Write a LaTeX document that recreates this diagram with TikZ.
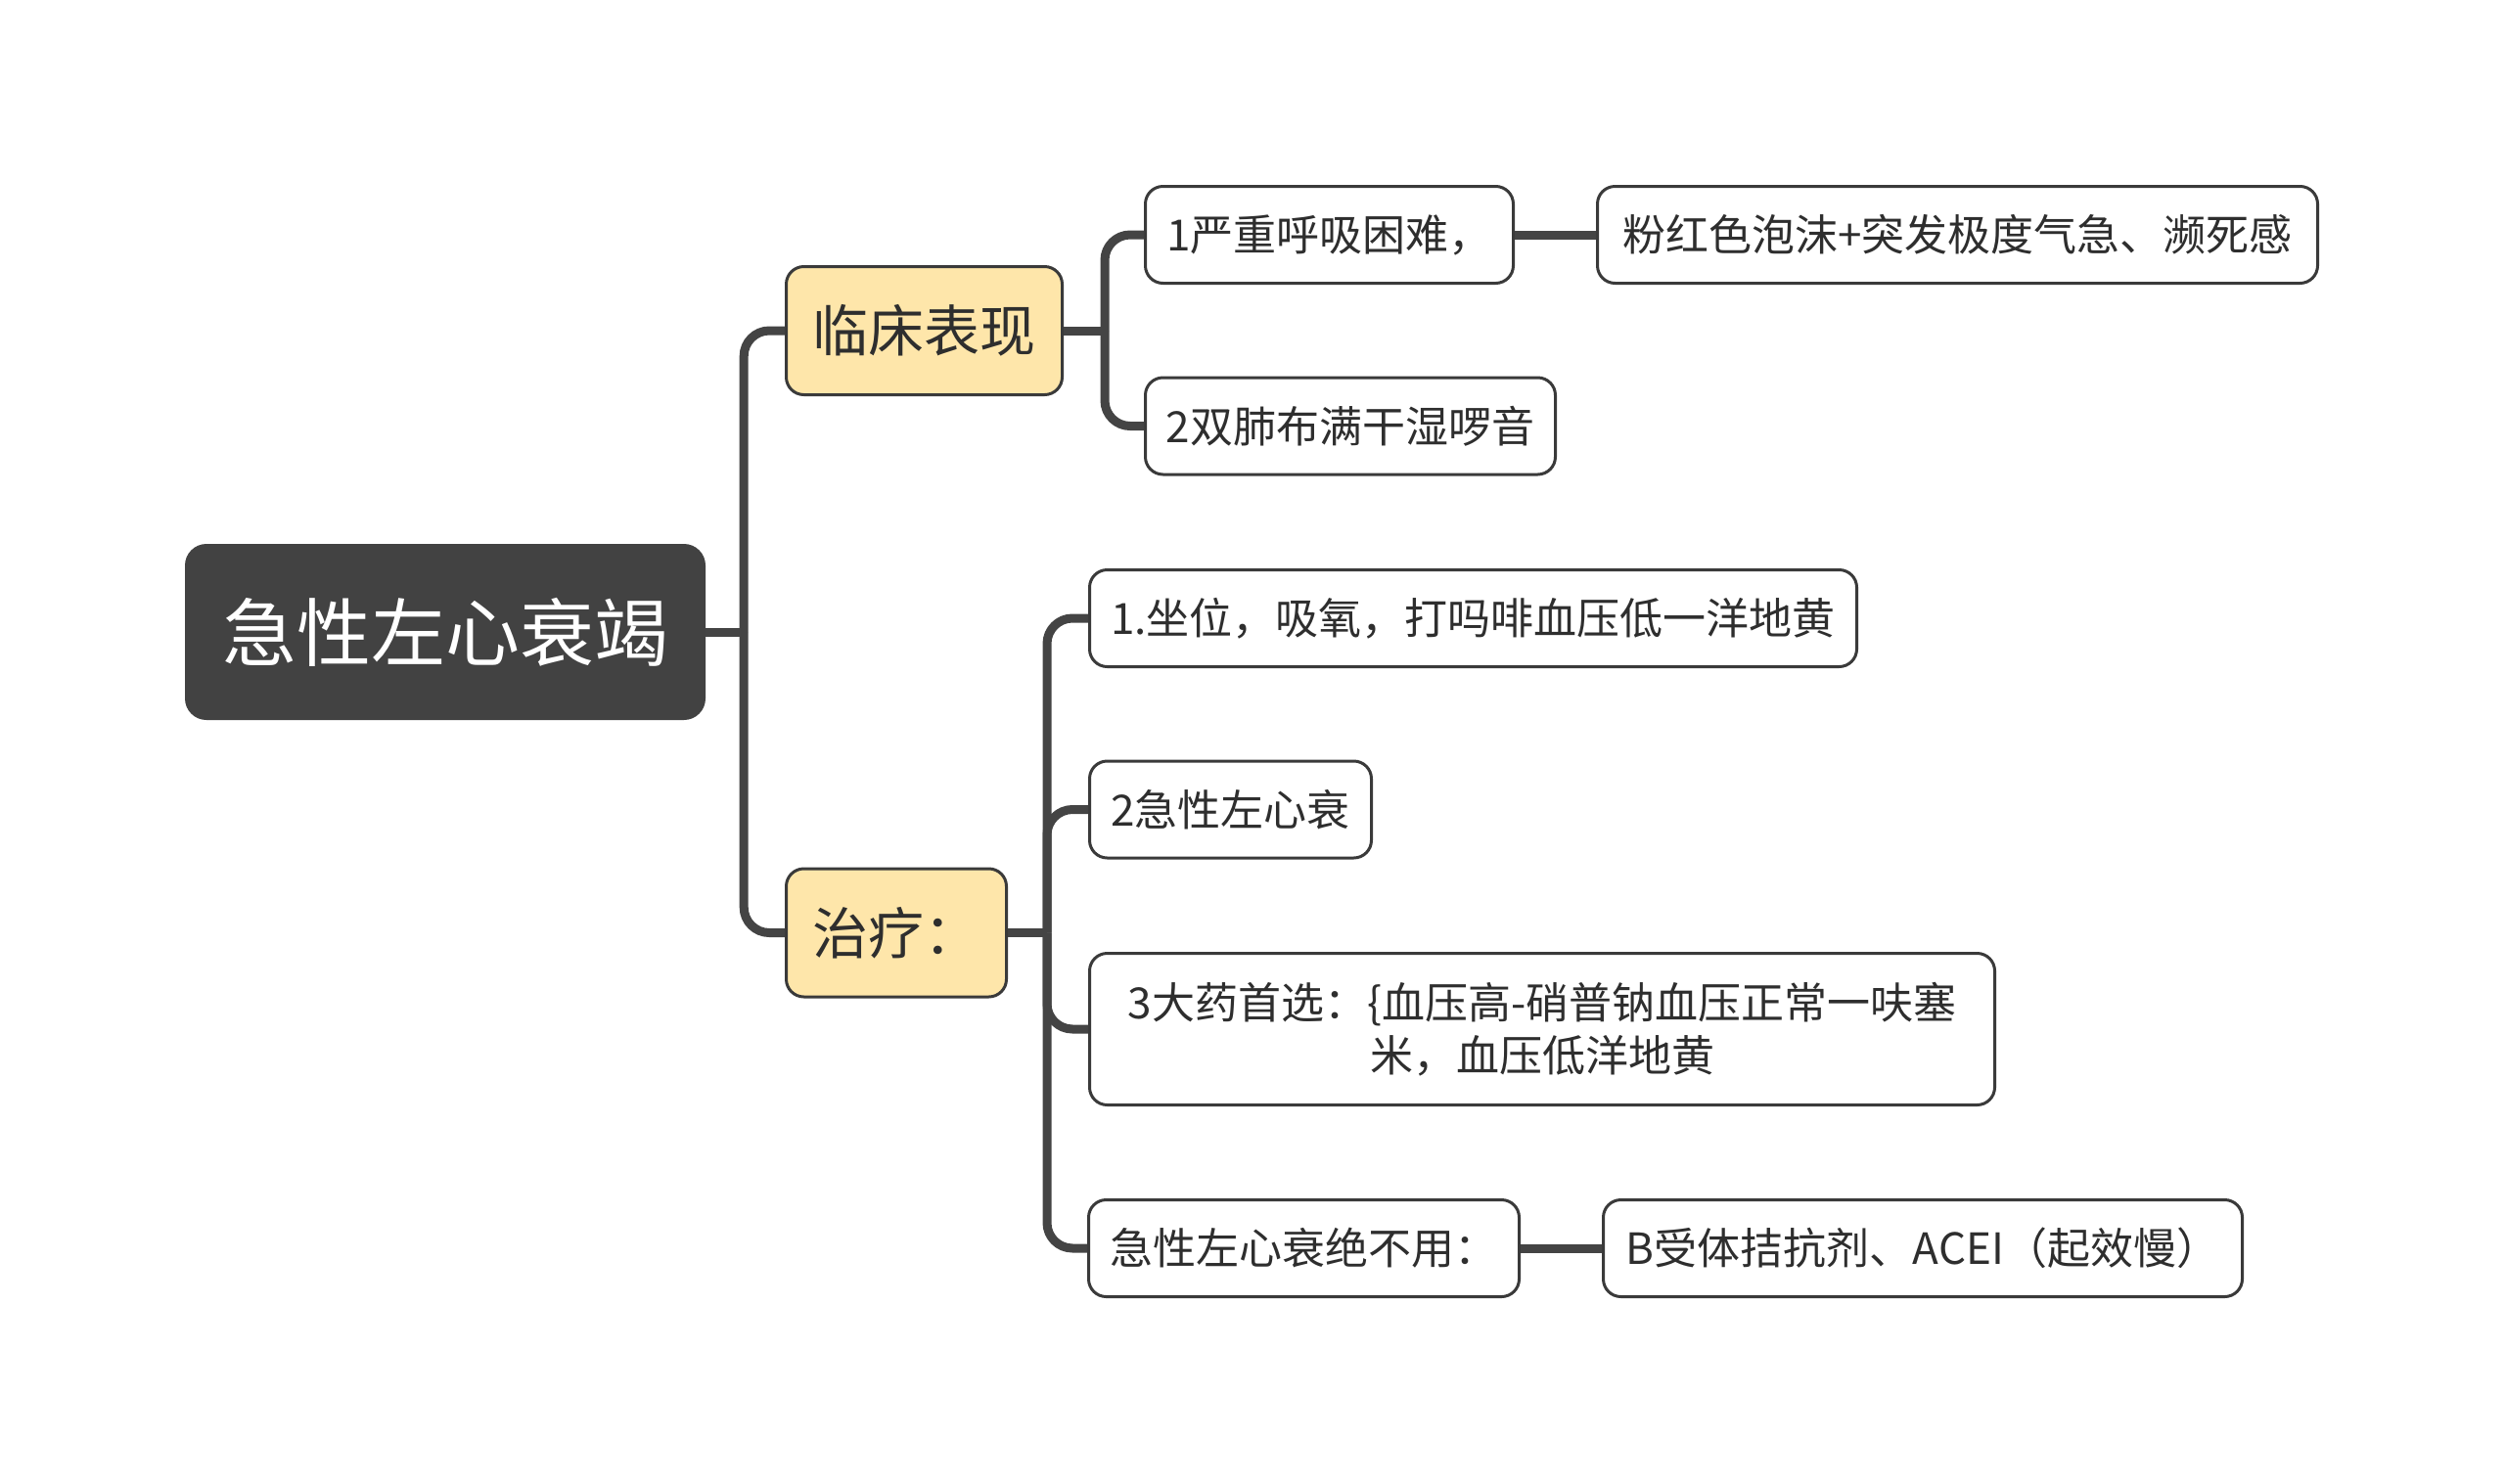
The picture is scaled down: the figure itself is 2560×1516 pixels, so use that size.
\documentclass[tikz,border=0pt]{standalone}
\usepackage{fontspec}
\setmainfont{Noto Sans CJK SC}
\definecolor{connc}{HTML}{444444}
\definecolor{borderc}{HTML}{3A3A3A}
\definecolor{rootc}{HTML}{424242}
\definecolor{yelc}{HTML}{FEE6AA}
\definecolor{txtc}{HTML}{2E2E2E}
\tikzset{
  rootbox/.style={fill=rootc, text=white, rounded corners=22pt, inner sep=0pt,
    minimum width=532pt, minimum height=180pt, font=\fontsize{76}{90}\selectfont},
  topicbox/.style={draw=borderc, fill=yelc, text=txtc, line width=3pt, rounded corners=18pt,
    inner sep=0pt, minimum height=131pt, font=\fontsize{57}{68}\selectfont},
  leafbox/.style={draw=borderc, fill=white, text=txtc, line width=3pt, rounded corners=18pt,
    inner sep=0pt, minimum height=99pt, font=\fontsize{44}{54}\selectfont, align=center},
  conn/.style={draw=connc, line width=9pt},
  elbow/.style={conn, rounded corners=26pt},
}
\begin{document}
\begin{tikzpicture}[x=1pt,y=-1pt]
\useasboundingbox (0,0) rectangle (2560,1516);
% nodes
\node[rootbox] (root) at (455,646) {急性左心衰竭};
\node[topicbox, minimum width=282pt] (lc) at (944.5,338) {临床表现};
\node[topicbox, minimum width=225pt] (zl) at (916,953.5) {治疗：};
\node[leafbox, minimum width=376pt] (a1) at (1358.5,240) {1严重呼吸困难，};
\node[leafbox, minimum width=736pt] (a1r) at (2000.5,240) {粉红色泡沫+突发极度气急、濒死感};
\node[leafbox, minimum width=419pt] (a2) at (1380,435.5) {2双肺布满干湿啰音};
\node[leafbox, minimum width=784pt] (b1) at (1505.5,632) {1.坐位，吸氧，打吗啡血压低一洋地黄};
\node[leafbox, minimum width=288pt] (b2) at (1257.5,827.5) {2急性左心衰};
\node[leafbox, minimum width=925pt, minimum height=155pt] (b3) at (1576,1052) {3大药首选：\{血压高-硝普钠血压正常一呋塞\\米，血压低洋地黄};
\node[leafbox, minimum width=440pt] (b4) at (1332.5,1276) {急性左心衰绝不用：};
\node[leafbox, minimum width=653pt] (b4r) at (1965,1276) {B受体拮抗剂、ACEI（起效慢）};
% junctions
\coordinate (j0) at ([xshift=39pt]root.east);
\coordinate (j1) at ([xshift=42pt]lc.east);
\coordinate (j2) at ([xshift=40pt]zl.east);
% connectors
\draw[conn] (root.east) -- (j0);
\draw[elbow] (j0) |- (lc.west);
\draw[elbow] (j0) |- (zl.west);
\draw[conn] (lc.east) -- (j1);
\draw[elbow] (j1) |- (a1.west);
\draw[elbow] (j1) |- (a2.west);
\draw[conn] (zl.east) -- (j2);
\draw[elbow] (j2) |- (b1.west);
\draw[elbow] (j2) |- (b2.west);
\draw[elbow] (j2) |- (b3.west);
\draw[elbow] (j2) |- (b4.west);
\draw[conn] (a1.east) -- (a1r.west);
\draw[conn] (b4.east) -- (b4r.west);
\end{tikzpicture}
\end{document}
